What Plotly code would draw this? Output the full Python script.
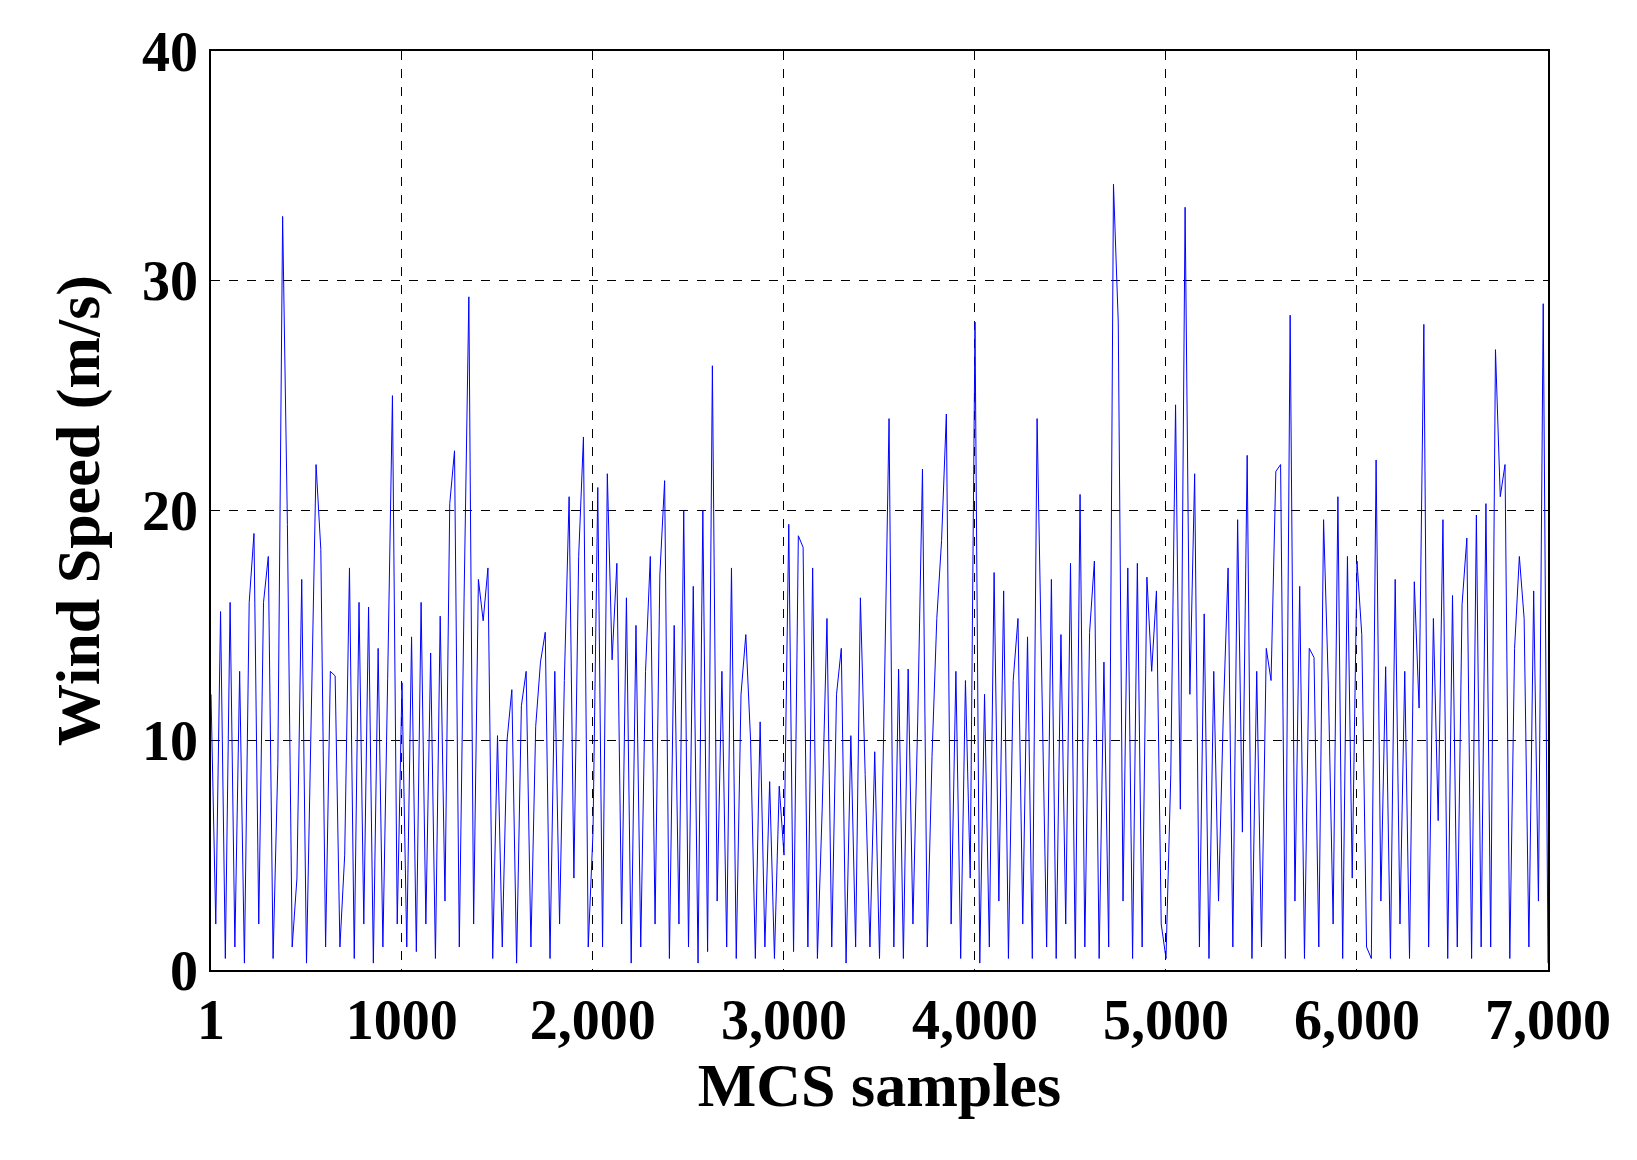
import numpy as np
import plotly.graph_objects as go

wind_speed = [
12,2,15.6,0.5,16,1,13,0.3,16,19,2,16,18,0.5,9,32.8,19.4,1,4,17,
0.3,10.5,22,18.3,1,13,12.8,1,5,17.5,0.5,16,2,15.8,0.3,14,1,12.7,25,2,
12.5,1,14.5,0.8,16,2,13.8,0.5,15.4,3,20.3,22.6,1,16.2,29.3,2,17,15.2,17.5,0.5,
10.2,1,10,12.2,0.3,11.5,13,1,10.6,13.4,14.7,0.5,13,2,12.6,20.6,4,18,23.2,1,
6,21,1,21.6,13.5,17.7,2,16.2,0.3,15,1,13,18,2,17.2,21.3,0.5,15,2,20,
1,16.7,0.3,20,0.8,26.3,3,13,1,17.5,0.5,12,14.6,10,0.5,10.8,1,8.2,0.5,8,
5,19.4,0.8,18.9,18.4,1,17.5,0.5,7,15.3,1,12,14,0.3,10.2,1,16.2,8.5,1,9.5,
0.5,11.8,24,1,13.1,0.5,13.1,2,10.8,21.8,1,9.3,15.3,18.7,24.2,2,13,0.5,12.6,4,
28.2,0.3,12,1,17.3,3,16.5,0.5,12.6,15.3,2,14.5,0.5,24,13,1,17,0.5,14.6,2,
17.7,0.5,20.7,1,14.7,17.8,0.5,13.4,1,34.2,28.2,3,17.5,0.5,17.7,1,17.1,13,16.5,2,
0.5,8.5,24.6,7,33.2,12,21.6,1,15.5,0.5,13,3,11.1,17.5,1,19.6,6,22.4,0.5,13,
1,14,12.6,21.7,22,0.5,28.5,3,16.7,0.5,14,13.6,1,19.6,12.4,2,20.6,0.5,18,4,
17.8,14.6,1,0.5,22.2,3,13.2,0.5,17,2,13,0.5,16.9,11.4,28.1,1,15.3,6.5,19.6,0.5,
16.3,1,15.9,18.8,0.5,19.8,1,20.3,1,27,20.6,22,0.5,14,18,15.3,1,16.5,3,29,0.3]
samples = np.linspace(1, 7000, len(wind_speed))

x_ticks = [1, 1000, 2000, 3000, 4000, 5000, 6000, 7000]
x_labels = ["1", "1000", "2,000", "3,000", "4,000", "5,000", "6,000", "7,000"]
y_ticks = [0, 10, 20, 30, 40]

fig = go.Figure(go.Scatter(x=samples, y=wind_speed, mode="lines",
                           line=dict(color="#0000ff", width=1)))
font = dict(family="Liberation Serif", size=50, color="black")
fig.update_layout(
    width=1637, height=1160, plot_bgcolor="white", paper_bgcolor="white",
    margin=dict(l=203, r=97, t=43, b=198), showlegend=False,
    font=font,
)
axis_common = dict(showline=True, linecolor="black", linewidth=1.5, mirror=True,
                   showgrid=True, gridcolor="black", griddash="dash", gridwidth=1,
                   zeroline=False, ticks="", tickfont=dict(family="Liberation Serif", size=56, color="black", weight="bold"))
fig.update_xaxes(range=[1, 7000], tickvals=x_ticks, ticktext=x_labels,
                 title=dict(text="<b>MCS samples</b>", font=dict(size=62), standoff=12), **axis_common)
fig.update_yaxes(range=[0, 40], tickvals=y_ticks,
                 title=dict(text="<b>Wind Speed (m/s)</b>", font=dict(size=62), standoff=22), **axis_common)
fig.write_html("out.html")
